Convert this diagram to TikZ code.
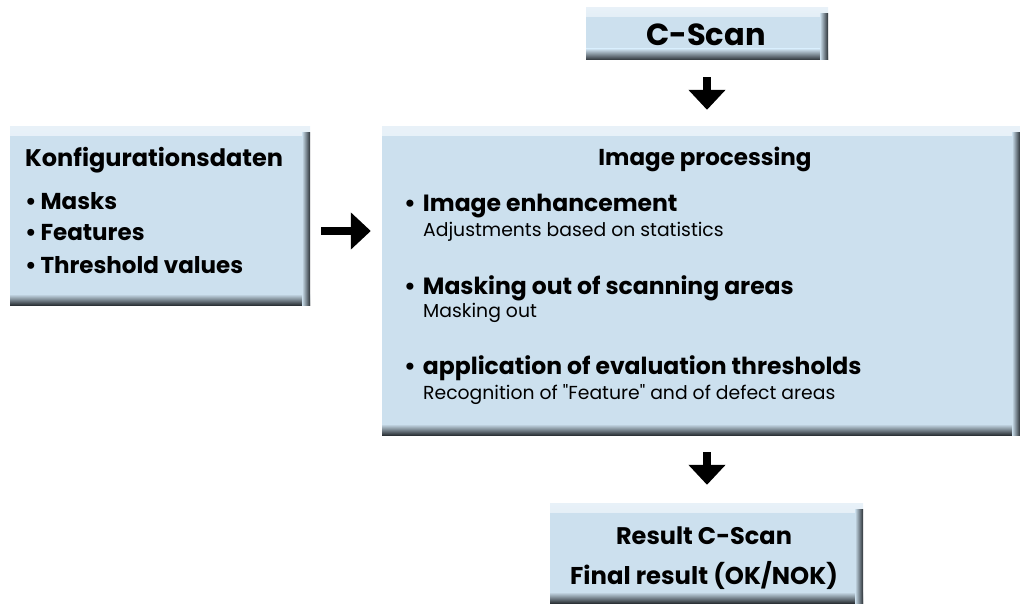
\documentclass[tikz,border=0pt]{standalone}
\usepackage{fontspec}
\setmainfont{Poppins}
\usetikzlibrary{arrows.meta}
\definecolor{boxblue}{RGB}{204,224,238}
\definecolor{boxtop}{RGB}{232,241,248}
\definecolor{boxdark}{RGB}{44,50,55}
\begin{document}
\begin{tikzpicture}[x=1pt,y=-1pt,
    panel/.style={fill=boxblue, inner sep=0pt, path picture={
        \shade[top color=boxtop,bottom color=boxblue] (path picture bounding box.north west) rectangle ([yshift=-9pt]path picture bounding box.north east);
        \shade[top color=boxblue,bottom color=boxdark] ([yshift=11pt]path picture bounding box.south west) rectangle (path picture bounding box.south east);
        \shade[left color=boxblue,right color=boxdark] ([xshift=-8pt,yshift=-6pt]path picture bounding box.north east) rectangle (path picture bounding box.south east);
    }},
    fat/.style={line width=7.5pt, -{Triangle[width=36pt,length=20pt]}},
    head/.style={inner sep=0pt, font=\bfseries\fontsize{23}{26}\selectfont},
    item/.style={anchor=west, inner sep=0pt, font=\bfseries\fontsize{23.5}{27}\selectfont},
    sub/.style={anchor=west, inner sep=0pt, font=\fontsize{18.8}{22}\selectfont}]
    \useasboundingbox (0,0) rectangle (1020,604);

    % boxes
    \node[panel, minimum width=242pt, minimum height=52pt] (cscan) at (707,34) {};
    \node[panel, minimum width=300pt, minimum height=178pt] (konfig) at (160,216) {};
    \node[panel, minimum width=638pt, minimum height=308pt] (proc) at (701,281) {};
    \node[panel, minimum width=313pt, minimum height=100pt] (result) at (706.5,553) {};

    \node[inner sep=0pt, font=\bfseries\fontsize{30.5}{34}\selectfont] (cscantxt) at (706,35) {C-Scan};

    \node[head, anchor=west, font=\bfseries\fontsize{24}{27}\selectfont] (konfighead) at (25,160) {Konfigurationsdaten};
    \node[head, anchor=west] (masks) at (25,201) {\textbullet\,Masks};
    \node[head, anchor=west] (features) at (25,233) {\textbullet\,Features};
    \node[head, anchor=west] (thresh) at (25,265) {\textbullet\,Threshold values};

    \node[head] (prochead) at (705,159) {Image processing};
    \node[item] (enh) at (404,206) {\textbullet\hspace{7pt}Image enhancement};
    \node[sub] (enhsub) at (423,232) {Adjustments based on statistics};
    \node[item] (mask) at (404,288) {\textbullet\hspace{7pt}Masking out of scanning areas};
    \node[sub] (masksub) at (423,313) {Masking out};
    \node[item] (eval) at (404,368) {\textbullet\hspace{7pt}application of evaluation thresholds};
    \node[sub] (evalsub) at (423,395) {Recognition of \textquotedbl Feature\textquotedbl{} and of defect areas};

    \node[head, font=\bfseries\fontsize{24}{27}\selectfont] (res1) at (704,536) {Result C-Scan};
    \node[head, font=\bfseries\fontsize{24.3}{27}\selectfont] (res2) at (704,575) {Final result (OK/NOK)};

    % arrows
    \draw[fat, shorten <=17pt, shorten >=17pt] (cscan.south) -- (cscan.south |- proc.north);
    \draw[fat, shorten <=11pt, shorten >=11pt] (konfig.east |- 0,231) -- (proc.west |- 0,231);
    \draw[fat, shorten <=17pt, shorten >=18pt] (cscan.south |- proc.south) -- (cscan.south |- result.north);
\end{tikzpicture}
\end{document}
